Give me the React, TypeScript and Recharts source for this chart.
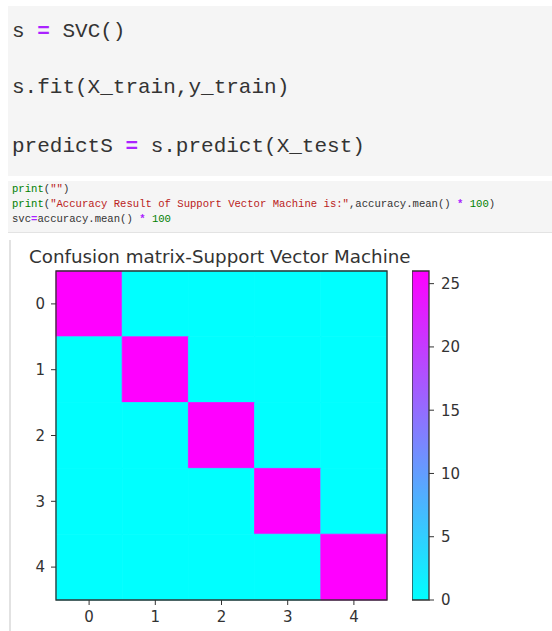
import React from "react";
import {
    ScatterChart, Scatter, XAxis, YAxis, ReferenceArea,
    BarChart, Bar
} from "recharts";

// class labels on both axes
const CLASSES = [0, 1, 2, 3, 4];

// confusion matrix rows (true class), columns = predicted class
const ROW_0 = [26, 0, 0, 0, 0];
const ROW_1 = [0, 26, 0, 0, 0];
const ROW_2 = [0, 0, 26, 0, 0];
const ROW_3 = [0, 0, 0, 26, 0];
const ROW_4 = [0, 0, 0, 0, 26];
const MATRIX = [ROW_0, ROW_1, ROW_2, ROW_3, ROW_4];

// colorbar
const CBAR_MAX = 26;
const CBAR_TICKS = [0, 5, 10, 15, 20, 25];

const TITLE = "Confusion matrix-Support Vector Machine";

const TEXT = "#333";
const AXIS_FONT = "DejaVu Sans, sans-serif";
const MONO = "Liberation Mono, DejaVu Sans Mono, monospace";

// matplotlib "cool" colormap: cyan -> magenta
const cool = (v: number) => {
    const t = Math.max(0, Math.min(1, v / CBAR_MAX));
    return `rgb(${Math.round(255 * t)}, ${Math.round(255 * (1 - t))}, 255)`;
};

const cells = MATRIX.flatMap((row, r) =>
    row.map((value, c) => ({ x: CLASSES[c], y: CLASSES[r], value }))
);

// code syntax colours (jupyter)
const OP = { color: "#aa22ff", fontWeight: 700 };
const STR = { color: "#ba2121" };
const NUM = { color: "#008000" };
const BUILTIN = { color: "#008000" };

const codeLine = (top: number, size: number, lh: number): React.CSSProperties => ({
    position: "absolute",
    left: 12,
    top,
    fontFamily: MONO,
    fontSize: size,
    lineHeight: `${lh}px`,
    color: TEXT,
    whiteSpace: "pre",
});

export default function App() {
    return (
        <div style={{ position: "absolute", left: 0, top: 0, width: 552, height: 631, background: "#fff", overflow: "hidden" }}>
            {/* first code cell */}
            <div style={{ position: "absolute", left: 8, top: 6, width: 544, height: 170, background: "#f5f5f5" }} />
            <div style={codeLine(19, 21, 26)}>s <span style={OP}>=</span> SVC()</div>
            <div style={codeLine(75, 21, 26)}>s.fit(X_train,y_train)</div>
            <div style={codeLine(134, 21, 26)}>predictS <span style={OP}>=</span> s.predict(X_test)</div>

            {/* second code cell */}
            <div style={{ position: "absolute", left: 8, top: 181, width: 544, height: 51, background: "#f5f5f5", borderBottom: "1px solid #e3e3e3" }} />
            <div style={codeLine(182, 10.6, 15)}>
                <span style={BUILTIN}>print</span>(<span style={STR}>""</span>)
            </div>
            <div style={codeLine(197, 10.6, 15)}>
                <span style={BUILTIN}>print</span>(<span style={STR}>"Accuracy Result of Support Vector Machine is:"</span>,accuracy.mean() <span style={OP}>*</span> <span style={NUM}>100</span>)
            </div>
            <div style={codeLine(212, 10.6, 15)}>
                svc<span style={OP}>=</span>accuracy.mean() <span style={OP}>*</span> <span style={NUM}>100</span>
            </div>

            {/* output area */}
            <div style={{ position: "absolute", left: 9, top: 240, width: 2, height: 391, background: "#e2e2e2" }} />

            <div style={{ position: "absolute", left: 29, top: 246, fontFamily: AXIS_FONT, fontSize: 18.3, lineHeight: "22px", color: TEXT, whiteSpace: "nowrap" }}>
                {TITLE}
            </div>

            {/* heatmap */}
            <div style={{ position: "absolute", left: 20, top: 265 }}>
                <ScatterChart width={372} height={365} margin={{ top: 6, right: 5, bottom: 0, left: 0 }}>
                    <XAxis
                        type="number"
                        dataKey="x"
                        domain={[-0.5, 4.5]}
                        ticks={CLASSES}
                        allowDataOverflow
                        axisLine={false}
                        tickLine={{ stroke: TEXT }}
                        tickSize={5}
                        tickMargin={6}
                        height={30}
                        tick={{ fontSize: 15, fill: TEXT, fontFamily: AXIS_FONT }}
                    />
                    <YAxis
                        type="number"
                        dataKey="y"
                        domain={[-0.5, 4.5]}
                        ticks={CLASSES}
                        reversed
                        allowDataOverflow
                        axisLine={false}
                        tickLine={{ stroke: TEXT }}
                        tickSize={5}
                        tickMargin={6}
                        width={36}
                        tick={{ fontSize: 15, fill: TEXT, fontFamily: AXIS_FONT }}
                    />
                    {cells.map((d) => (
                        <ReferenceArea
                            key={`cell_${d.x}_${d.y}`}
                            x1={d.x - 0.5}
                            x2={d.x + 0.5}
                            y1={d.y - 0.5}
                            y2={d.y + 0.5}
                            fill={cool(d.value)}
                            fillOpacity={1}
                            stroke={cool(d.value)}
                            strokeWidth={0.8}
                            ifOverflow="visible"
                        />
                    ))}
                    {/* frame */}
                    <ReferenceArea
                        x1={CLASSES[0] - 0.5}
                        x2={CLASSES[CLASSES.length - 1] + 0.5}
                        y1={CLASSES[0] - 0.5}
                        y2={CLASSES[CLASSES.length - 1] + 0.5}
                        fill="none"
                        stroke={TEXT}
                        strokeWidth={1.3}
                        ifOverflow="visible"
                    />
                    <Scatter data={cells} isAnimationActive={false} shape={() => <g />} />
                </ScatterChart>
            </div>

            {/* colorbar */}
            <div style={{ position: "absolute", left: 412, top: 265 }}>
                <BarChart
                    width={67}
                    height={365}
                    data={[{ name: "cbar", v: CBAR_MAX }]}
                    margin={{ top: 6, right: 0, bottom: 30, left: 0 }}
                    barCategoryGap={0}
                >
                    <defs>
                        <linearGradient id="coolGrad" x1="0" y1="0" x2="0" y2="1">
                            <stop offset="0%" stopColor={cool(CBAR_MAX)} />
                            <stop offset="50%" stopColor={cool(CBAR_MAX / 2)} />
                            <stop offset="100%" stopColor={cool(0)} />
                        </linearGradient>
                    </defs>
                    <XAxis dataKey="name" hide />
                    <YAxis
                        orientation="right"
                        type="number"
                        domain={[0, CBAR_MAX]}
                        ticks={CBAR_TICKS}
                        axisLine={false}
                        tickLine={{ stroke: TEXT }}
                        tickSize={5}
                        tickMargin={7}
                        width={50}
                        tick={{ fontSize: 15, fill: TEXT, fontFamily: AXIS_FONT, textAnchor: "start" }}
                    />
                    <Bar dataKey="v" fill="url(#coolGrad)" stroke={TEXT} strokeWidth={1.3} isAnimationActive={false} />
                </BarChart>
            </div>
        </div>
    );
}
